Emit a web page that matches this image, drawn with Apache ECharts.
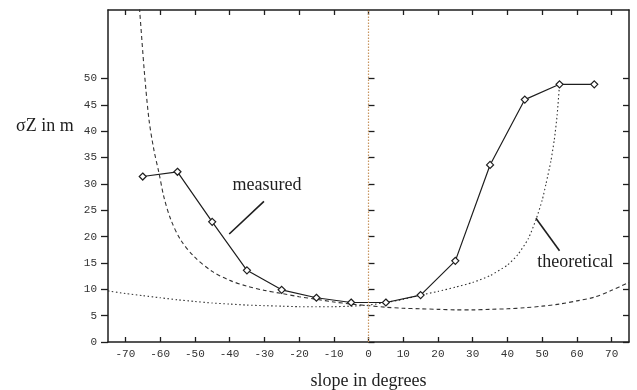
<!DOCTYPE html>
<html>
<head>
<meta charset="utf-8">
<script src="https://cdn.jsdelivr.net/npm/echarts@6/dist/echarts.min.js"></script>
<style>
  html, body { margin: 0; padding: 0; background: #fff; }
  #chart { width: 637px; height: 390px; }
</style>
</head>
<body>
<div id="chart"></div>
<script>
// tick positions
const xTicks = [-70, -60, -50, -40, -30, -20, -10, 0, 10, 20, 30, 40, 50, 60, 70];
const yTicks = [0, 5, 10, 15, 20, 25, 30, 35, 40, 45, 50];

// measured sigma Z (diamonds)
const measuredX = [-65, -55, -45, -35, -25, -15, -5, 5, 15, 25, 35, 45, 55, 65];
const measuredY = [31.4, 32.3, 22.8, 13.6, 9.9, 8.4, 7.5, 7.5, 8.9, 15.4, 33.6, 46.0, 48.9, 48.9];

// theoretical curve, dashed (steep on the left)
const dashedX = [-66.3, -65.9, -64.5, -63.2, -61.8, -60.3, -58.9, -56.9, -54.1, -50.2, -45, -40, -35, -30, -25, -20, -15, -10, -5, 0, 5, 10, 15, 20, 25, 30, 35, 40, 45, 50, 55, 60, 65, 70, 75];
const dashedY = [66, 63, 51, 42.2, 36.5, 32, 27.5, 23.2, 19.4, 16.2, 13.4, 11.7, 10.6, 9.8, 9.2, 8.6, 8.1, 7.6, 7.2, 6.9, 6.6, 6.4, 6.3, 6.2, 6.1, 6.1, 6.2, 6.3, 6.5, 6.8, 7.2, 7.8, 8.5, 9.8, 11.3];

// theoretical curve, dotted (steep on the right)
const dottedX = [-75, -70, -65, -60, -55, -50, -45, -40, -35, -30, -25, -20, -15, -10, -5, 0, 5, 10, 15, 20, 25, 30, 35, 40, 43, 46, 48.2, 50, 51.1, 52.5, 53.5, 54.3, 55];
const dottedY = [9.7, 9.2, 8.8, 8.4, 8.0, 7.7, 7.4, 7.2, 7.0, 6.9, 6.8, 6.7, 6.7, 6.7, 6.8, 7.0, 7.5, 8.1, 8.9, 9.6, 10.4, 11.3, 12.6, 14.6, 16.6, 19.6, 23.2, 26.9, 30.0, 34.3, 38.4, 43.0, 48.9];

// annotations (data coordinates)
const measuredLabel = { text: "measured", at: [-29.2, 29.7], pointer: [[-30.1, 26.7], [-40.1, 20.5]] };
const theoryLabel = { text: "theoretical", at: [59.5, 15.1], pointer: [[48.2, 23.5], [55.0, 17.3]] };

const zip = (xs, ys) => xs.map((x, i) => [x, ys[i]]);

const ink = "#1e1e1e";
const serif = "'Liberation Serif', 'DejaVu Serif', serif";
const mono = "'Liberation Mono', 'DejaVu Sans Mono', monospace";

const baseX = {
  type: "value",
  min: -75,
  max: 75,
  splitLine: { show: false },
  axisLine: { show: true, onZero: false, lineStyle: { color: ink, width: 1.5 } }
};
const baseY = {
  type: "value",
  min: 0,
  max: 63,
  splitLine: { show: false },
  axisLine: { show: true, onZero: false, lineStyle: { color: ink, width: 1.5 } }
};

const textPoint = (item) => ({
  coord: item.at,
  name: item.text,
  symbolSize: 0,
  label: {
    show: true,
    position: "inside",
    formatter: item.text,
    fontFamily: serif,
    fontSize: 18,
    color: ink
  }
});
const pointerLine = (item) => [
  { coord: item.pointer[0], lineStyle: { color: ink, width: 1.6, type: "solid" } },
  { coord: item.pointer[1] }
];

const chart = echarts.init(document.getElementById("chart"), null, { renderer: "canvas" });
chart.setOption({
  animation: false,
  backgroundColor: "#fff",
  grid: { left: 108, right: 8, top: 10, bottom: 48, outerBoundsMode: "none", containLabel: false },
  graphic: [
    {
      type: "text",
      left: 16,
      top: 117,
      style: { text: "σZ in m", font: "18px " + serif, fill: ink }
    }
  ],
  xAxis: [
    {
      ...baseX,
      position: "bottom",
      name: "slope in degrees",
      nameLocation: "middle",
      nameGap: 30,
      nameTextStyle: { fontFamily: serif, fontSize: 18, color: ink },
      axisTick: { show: true, inside: true, length: 5, customValues: xTicks, lineStyle: { color: ink, width: 1.3 } },
      axisLabel: { show: true, customValues: xTicks, fontFamily: mono, fontSize: 11, color: "#333", margin: 7 }
    },
    {
      ...baseX,
      position: "top",
      axisTick: { show: true, inside: true, length: 5, customValues: xTicks, lineStyle: { color: ink, width: 1.3 } },
      axisLabel: { show: false }
    }
  ],
  yAxis: [
    {
      ...baseY,
      position: "left",
      axisTick: { show: true, inside: false, length: 7, customValues: yTicks, lineStyle: { color: ink, width: 1.3 } },
      axisLabel: { show: true, customValues: yTicks, fontFamily: mono, fontSize: 11, color: "#333", margin: 11 }
    },
    {
      ...baseY,
      position: "right",
      axisTick: { show: true, inside: true, length: 6, customValues: yTicks, lineStyle: { color: ink, width: 1.3 } },
      axisLabel: { show: false }
    },
    {
      ...baseY,
      position: "left",
      axisLine: { show: false },
      axisTick: { show: true, inside: true, length: 6, customValues: yTicks, lineStyle: { color: ink, width: 1.3 } },
      axisLabel: { show: false }
    }
  ],
  series: [
    {
      name: "theoretical dashed",
      type: "line",
      data: zip(dashedX, dashedY),
      smooth: 0.3,
      showSymbol: false,
      clip: true,
      lineStyle: { color: "#333", width: 1.1, type: [4, 3] },
      z: 2
    },
    {
      name: "theoretical dotted",
      type: "line",
      data: zip(dottedX, dottedY),
      smooth: 0.2,
      showSymbol: false,
      clip: true,
      lineStyle: { color: "#333", width: 1.1, type: [1.5, 2.5] },
      z: 2
    },
    {
      name: "measured",
      type: "line",
      data: zip(measuredX, measuredY),
      symbol: "diamond",
      symbolSize: 7,
      showAllSymbol: true,
      lineStyle: { color: ink, width: 1.2 },
      itemStyle: { color: "#fff", borderColor: ink, borderWidth: 1.2 },
      z: 3,
      markLine: {
        silent: true,
        symbol: "none",
        label: { show: false },
        data: [
          { xAxis: 0, lineStyle: { color: "#c8955f", width: 1.2, type: [1.5, 1.5] } },
          pointerLine(measuredLabel),
          pointerLine(theoryLabel)
        ]
      },
      markPoint: {
        silent: true,
        symbol: "circle",
        data: [textPoint(measuredLabel), textPoint(theoryLabel)]
      }
    }
  ]
});
</script>
</body>
</html>
